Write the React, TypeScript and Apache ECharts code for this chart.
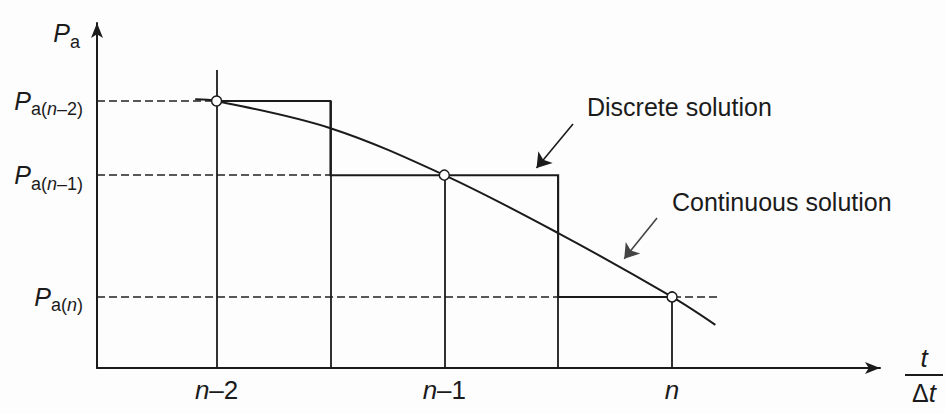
import React, { useEffect, useRef } from 'react';
import * as echarts from 'echarts';

const FONT = '"Liberation Sans", Arial, Helvetica, sans-serif';
const INK = '#1b1b1b';

// time axis in units of t/Δt : n-2 -> 2, n-1 -> 3, n -> 4
const X_MIN = 1.475;
const X_MAX = 4.913;
const Y_MIN = 0;
const Y_MAX = 10;

const xTickValues = [2, 3, 4];
const xTickSuffix = ['–2', '–1', ''];

// pressure levels P_a(n-2), P_a(n-1), P_a(n)
const paValues = [7.74, 5.59, 2.06];
const paSuffix = ['–2', '–1', ''];

// discrete (step) solution: edges of each step
const stepEdges = [2, 2.5, 3.5, 4];

// vertical lines from the time axis
const verticalX = [2, 2.5, 3, 3.5, 4];
const verticalTop = [8.64, 7.74, 5.59, 5.59, 2.06];

// continuous solution
const curveX = [1.906, 2, 2.5, 3, 3.5, 4, 4.19];
const curveY = [7.79, 7.74, 6.95, 5.59, 3.91, 2.06, 1.25];

// dashed reference lines end at these x values
const dashEnds = [2, 2.5, 4.21];

// annotation arrows [x0, y0, x1, y1]
const discreteArrow = [3.565, 7.07, 3.405, 5.8];
const continuousArrow = [3.934, 4.35, 3.79, 3.17];

const subRich = {
  P: { fontFamily: FONT, fontStyle: 'italic', fontSize: 25, color: INK, lineHeight: 30 },
  s: { fontFamily: FONT, fontSize: 18, color: INK, lineHeight: 30, padding: [17, 0, 0, 0] },
  sn: { fontFamily: FONT, fontSize: 18, fontStyle: 'italic', color: INK, lineHeight: 30, padding: [17, 0, 0, 0] },
};

function paLabel(i: number): string {
  const suf = paSuffix[i];
  return `{P|P}{s|a(}{sn|n}{s|${suf})}`;
}

function nearestIndex(arr: number[], v: number): number {
  let best = 0;
  for (let i = 1; i < arr.length; i++) {
    if (Math.abs(arr[i] - v) < Math.abs(arr[best] - v)) best = i;
  }
  return best;
}

export default function App() {
  const ref = useRef<HTMLDivElement>(null);

  useEffect(() => {
    if (!ref.current) return;
    const chart = echarts.init(ref.current, null, { renderer: 'svg' });

    const stepCoords: number[][] = [];
    for (let i = 0; i < paValues.length; i++) {
      stepCoords.push([stepEdges[i], paValues[i]]);
      stepCoords.push([stepEdges[i + 1], paValues[i]]);
    }
    const verticalData = verticalX.map((x, i) => ({ coords: [[x, Y_MIN], [x, verticalTop[i]]] }));
    const dashData = paValues.map((v, i) => ({ coords: [[X_MIN, v], [dashEnds[i], v]] }));
    const curveData = curveX.map((x, i) => [x, curveY[i]]);
    const nodeData = xTickValues.map((x, i) => [x, paValues[i]]);

    const option: any = {
      animation: false,
      backgroundColor: '#fdfdfd',
      grid: { left: 97, right: 65, top: 23, bottom: 45, containLabel: false, outerBoundsMode: 'none' },
      xAxis: {
        type: 'value',
        min: X_MIN,
        max: X_MAX,
        axisLine: {
          show: true,
          onZero: false,
          symbol: ['none', 'arrow'],
          symbolSize: [9, 15],
          lineStyle: { color: INK, width: 2 },
        },
        axisTick: { show: false },
        splitLine: { show: false },
        axisLabel: {
          customValues: xTickValues,
          margin: 8,
          formatter: (v: number) => {
            const i = nearestIndex(xTickValues, v);
            return xTickSuffix[i] ? `{i|n}{r|${xTickSuffix[i]}}` : '{i|n}';
          },
          rich: {
            i: { fontFamily: FONT, fontStyle: 'italic', fontSize: 26, color: INK, lineHeight: 28 },
            r: { fontFamily: FONT, fontSize: 26, color: INK, lineHeight: 28 },
          },
        },
        name: '{t|t}\n{bar| }\n{d|Δ}{ti|t}',
        nameLocation: 'end',
        nameGap: 25,
        nameTextStyle: {
          align: 'left',
          verticalAlign: 'middle',
          padding: [16, 0, 0, 0],
          rich: {
            t: { fontFamily: FONT, fontStyle: 'italic', fontSize: 26, color: INK, lineHeight: 26, align: 'center' },
            bar: { width: 38, height: 2, backgroundColor: INK, lineHeight: 8, align: 'center', fontSize: 4 },
            d: { fontFamily: FONT, fontSize: 25, color: INK, lineHeight: 28, align: 'center' },
            ti: { fontFamily: FONT, fontStyle: 'italic', fontSize: 26, color: INK, lineHeight: 28, align: 'center' },
          },
        },
      },
      yAxis: {
        type: 'value',
        min: Y_MIN,
        max: Y_MAX,
        axisLine: {
          show: true,
          onZero: false,
          symbol: ['none', 'arrow'],
          symbolSize: [9, 15],
          lineStyle: { color: INK, width: 2 },
        },
        axisTick: { show: false },
        splitLine: { show: false },
        axisLabel: {
          customValues: paValues,
          margin: 14,
          formatter: (v: number) => paLabel(nearestIndex(paValues, v)),
          rich: subRich,
        },
        name: '{P|P}{s|a}',
        nameLocation: 'end',
        nameGap: -10,
        nameTextStyle: {
          align: 'right',
          verticalAlign: 'middle',
          padding: [0, 17, 0, 0],
          rich: subRich,
        },
      },
      graphic: [
        {
          type: 'text',
          left: 587,
          top: 94,
          style: { text: 'Discrete solution', font: `25px ${FONT}`, fill: INK },
        },
        {
          type: 'text',
          left: 672,
          top: 189,
          style: { text: 'Continuous solution', font: `25px ${FONT}`, fill: INK },
        },
      ],
      series: [
        {
          name: 'Reference levels',
          type: 'lines',
          coordinateSystem: 'cartesian2d',
          data: dashData,
          symbol: 'none',
          lineStyle: { color: '#222', width: 1.7, type: [8, 4], opacity: 1 },
          z: 2,
        },
        {
          name: 'Time steps',
          type: 'lines',
          coordinateSystem: 'cartesian2d',
          data: verticalData,
          symbol: 'none',
          lineStyle: { color: INK, width: 1.8, opacity: 1 },
          z: 3,
        },
        {
          name: 'Discrete solution',
          type: 'lines',
          coordinateSystem: 'cartesian2d',
          polyline: true,
          data: [{ coords: stepCoords }],
          symbol: 'none',
          lineStyle: { color: INK, width: 2, opacity: 1 },
          z: 4,
        },
        {
          name: 'Continuous solution',
          type: 'line',
          data: curveData,
          smooth: 0.35,
          showSymbol: false,
          lineStyle: { color: INK, width: 2 },
          z: 5,
        },
        {
          name: 'Nodes',
          type: 'scatter',
          data: nodeData,
          symbol: 'circle',
          symbolSize: 10,
          itemStyle: { color: '#ffffff', borderColor: INK, borderWidth: 1.5, opacity: 1 },
          z: 6,
        },
        {
          name: 'Arrows',
          type: 'lines',
          coordinateSystem: 'cartesian2d',
          data: [
            {
              coords: [[discreteArrow[0], discreteArrow[1]], [discreteArrow[2], discreteArrow[3]]],
              lineStyle: { color: INK },
            },
            {
              coords: [[continuousArrow[0], continuousArrow[1]], [continuousArrow[2], continuousArrow[3]]],
              lineStyle: { color: '#444' },
            },
          ],
          symbol: ['none', 'arrow'],
          symbolSize: [8, 14],
          lineStyle: { width: 1.6, opacity: 1 },
          z: 6,
        },
      ],
    };

    chart.setOption(option);
    return () => chart.dispose();
  }, []);

  return (
    <div
      ref={ref}
      style={{ position: 'fixed', left: 0, top: 0, width: 945, height: 413 }}
    />
  );
}
